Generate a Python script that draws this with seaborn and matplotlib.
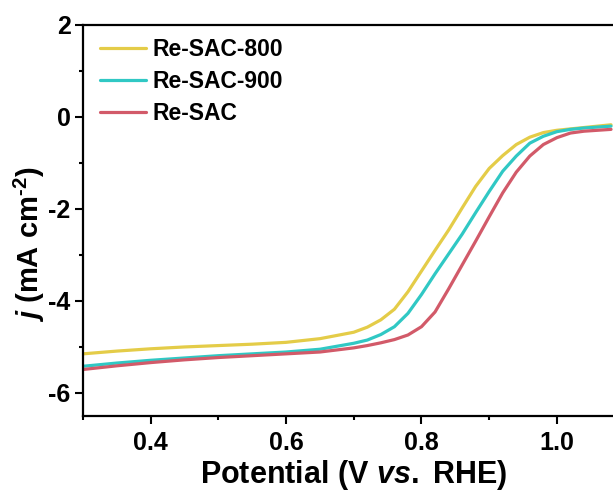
import numpy as np
import pandas as pd
import matplotlib
matplotlib.use("Agg")
import matplotlib.pyplot as plt
from matplotlib.ticker import MultipleLocator
import seaborn as sns

sns.set_style("ticks")
plt.rcParams['font.family'] = ['Liberation Sans', 'DejaVu Sans']
plt.rcParams['font.weight'] = 'bold'
plt.rcParams['axes.unicode_minus'] = False
plt.rcParams['mathtext.fontset'] = 'custom'
plt.rcParams['mathtext.rm'] = 'Liberation Sans:bold'
plt.rcParams['mathtext.it'] = 'Liberation Sans:bold:italic'
plt.rcParams['mathtext.bf'] = 'Liberation Sans:bold'
plt.rcParams['text.color'] = 'black'
plt.rcParams['axes.labelcolor'] = 'black'
plt.rcParams['axes.edgecolor'] = 'black'
plt.rcParams['xtick.color'] = 'black'
plt.rcParams['ytick.color'] = 'black'

# potential (V vs. RHE)
potential = [0.30, 0.35, 0.40, 0.45, 0.50, 0.55, 0.60, 0.65, 0.70, 0.72, 0.74,
             0.76, 0.78, 0.80, 0.82, 0.84, 0.86, 0.88, 0.90, 0.92, 0.94, 0.96,
             0.98, 1.00, 1.02, 1.04, 1.06, 1.08]

# current density (mA cm-2)
re_sac_800 = [-5.15, -5.09, -5.04, -5.00, -4.97, -4.94, -4.90, -4.82, -4.68, -4.57, -4.41,
              -4.18, -3.80, -3.35, -2.90, -2.46, -1.98, -1.51, -1.12, -0.84, -0.60, -0.44,
              -0.34, -0.29, -0.26, -0.23, -0.20, -0.17]
re_sac_900 = [-5.42, -5.35, -5.29, -5.24, -5.19, -5.15, -5.11, -5.05, -4.92, -4.85, -4.73,
              -4.56, -4.27, -3.86, -3.41, -2.98, -2.55, -2.08, -1.62, -1.18, -0.85, -0.57,
              -0.42, -0.32, -0.27, -0.24, -0.22, -0.20]
re_sac = [-5.49, -5.41, -5.34, -5.28, -5.23, -5.19, -5.15, -5.11, -5.02, -4.97, -4.91,
          -4.84, -4.74, -4.56, -4.24, -3.74, -3.22, -2.70, -2.17, -1.65, -1.20, -0.85,
          -0.60, -0.45, -0.35, -0.31, -0.29, -0.27]

samples = ['Re-SAC-800', 'Re-SAC-900', 'Re-SAC']
colors = ['#E4CC48', '#30C8C4', '#D25A69']

df = pd.concat([
    pd.DataFrame({'Potential': potential, 'j': vals, 'Sample': name})
    for name, vals in zip(samples, [re_sac_800, re_sac_900, re_sac])
])

fig = plt.figure(figsize=(6.13, 4.94), dpi=100)
ax = fig.add_axes([0.1354, 0.158, 0.8835, 0.7915])

sns.lineplot(data=df, x='Potential', y='j', hue='Sample', hue_order=samples,
             palette=colors, linewidth=2.3, ax=ax)

ax.set_xlim(0.3, 1.1)
ax.set_ylim(-6.5, 2)
ax.xaxis.set_major_locator(MultipleLocator(0.2))
ax.xaxis.set_minor_locator(MultipleLocator(0.1))
ax.yaxis.set_major_locator(MultipleLocator(2))
ax.yaxis.set_minor_locator(MultipleLocator(1))
ax.tick_params(which='major', direction='out', length=6, width=1.5, labelsize=18, pad=3)
ax.tick_params(which='minor', direction='out', length=3, width=1.5)
ax.tick_params(axis='x', which='major', pad=5)
for s in ax.spines.values():
    s.set_linewidth(1.6)

ax.set_xlabel('Potential (V $\\mathit{vs.}$ RHE)', fontsize=22, fontweight='bold', labelpad=2)
ax.set_ylabel('$j$ (mA cm$^{\\text{-2}}$)', fontsize=21, fontweight='bold')
ax.yaxis.set_label_coords(-0.067, 0.44)

ax.legend(title=None, frameon=False, loc='upper left', fontsize=16.5,
          handlelength=2.0, handletextpad=0.3, labelspacing=0.4,
          borderaxespad=0.2, bbox_to_anchor=(0.006, 1.002))

fig.savefig('out.png', dpi=100)
